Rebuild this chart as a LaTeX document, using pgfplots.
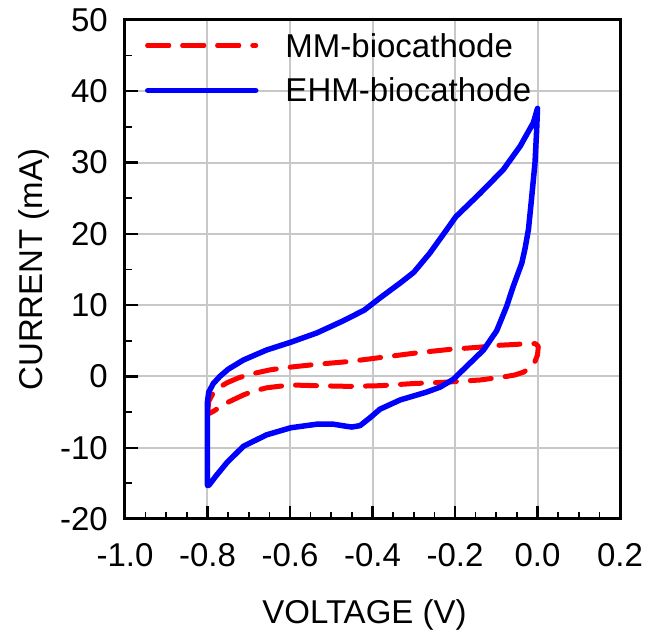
\documentclass[border=0pt]{standalone}
\usepackage{pgfplots}
\pgfplotsset{compat=1.18}
\usepackage{fontspec}
\setmainfont{Liberation Sans}
\definecolor{gridgray}{RGB}{200,200,200}
\pgfplotsset{
  shortlegend/.style={legend image code/.code={\draw[##1] (0pt,4pt) -- (97pt,4pt); \path (0pt,4pt) -- (108pt,4pt);}},
}
\begin{document}
\begin{tikzpicture}
\begin{axis}[
  name=ax,
  scale only axis,
  width=495pt, height=499pt,
  xmin=-1.0, xmax=0.2, ymin=-20, ymax=50,
  xtick={-1,-0.8,-0.6,-0.4,-0.2,0,0.2},
  xticklabels={-1.0,-0.8,-0.6,-0.4,-0.2,0.0,0.2},
  ytick={-20,-10,0,10,20,30,40,50},
  yticklabels={-20,-10,0,10,20,30,40,50},
  minor x tick num=3,
  minor y tick num=1,
  xtick pos=bottom, ytick pos=left,
  tick align=inside,
  major tick length=13pt, minor tick length=7pt,
  every major tick/.append style={black, line width=2.2pt},
  every minor tick/.append style={black, line width=1.7pt},
  axis line style={line width=3pt},
  xmajorgrids=true, ymajorgrids=true, xminorgrids=false, yminorgrids=false,
  major grid style={gridgray, line width=2pt},
  tick label style={font=\fontsize{33}{40}\selectfont},
  xticklabel style={inner sep=0pt, anchor=north, yshift=-24pt},
  yticklabel style={inner sep=0pt, anchor=east, xshift=-17pt},
  xlabel={VOLTAGE (V)},
  ylabel={CURRENT (mA)},
  label style={font=\fontsize{33}{40}\selectfont},
  xlabel style={at={(rel axis cs:0.5,0)}, anchor=north, inner sep=0pt, yshift=-80pt, xshift=-8pt},
  ylabel style={at={(rel axis cs:0,0.5)}, anchor=south, inner sep=0pt, yshift=75pt},
  legend style={at={(rel axis cs:0,1)}, anchor=north west, xshift=20pt, yshift=-13pt,
    draw=none, fill=none, inner sep=0pt, outer sep=0pt,
    column sep=27pt, row sep=11pt,
    font=\fontsize{33}{40}\selectfont,
    nodes={inner sep=0pt, text height=25pt, text depth=8pt}},
  legend cell align=left,
  legend image code/.code={\draw[#1] (0pt,3pt) -- (108pt,3pt);},
]
\addplot[red, line width=5pt, line cap=round, line join=round, dash pattern=on 21pt off 14pt, shortlegend]
coordinates {
(-0.800,-5.3) (-0.797,-3.5) (-0.786,-2.3) (-0.770,-1.5) (-0.753,-0.9) (-0.725,-0.2)
(-0.697,0.3) (-0.650,0.9) (-0.616,1.2) (-0.535,1.7) (-0.455,2.1) (-0.374,2.7)
(-0.293,3.3) (-0.212,3.8) (-0.140,4.1) (-0.099,4.35) (-0.050,4.5) (-0.026,4.6)
(-0.005,4.6) (0.002,4.2) (0.000,3.0) (-0.006,2.1) (-0.018,1.2) (-0.034,0.6)
(-0.055,0.2) (-0.075,0.0) (-0.139,-0.5) (-0.220,-0.8) (-0.301,-1.0) (-0.382,-1.3)
(-0.455,-1.4) (-0.535,-1.3) (-0.600,-1.2) (-0.657,-1.6) (-0.690,-2.1) (-0.713,-2.6)
(-0.753,-3.7) (-0.786,-4.9) (-0.800,-5.3)
};
\addlegendentry{MM-biocathode}
\addplot[blue, line width=5.5pt, line cap=round, line join=round]
coordinates {
(-0.800,-15.3) (-0.800,-3.5) (-0.797,-2.2) (-0.786,-1.0) (-0.770,0.0) (-0.750,1.0)
(-0.713,2.3) (-0.657,3.7) (-0.598,4.8) (-0.535,6.1) (-0.471,7.8) (-0.420,9.3)
(-0.382,11.0) (-0.333,13.1) (-0.300,14.6) (-0.261,17.3) (-0.220,20.6) (-0.198,22.4)
(-0.139,25.7) (-0.083,29.0) (-0.042,32.3) (-0.010,35.6) (0.000,37.6) (-0.002,34.6)
(-0.006,30.0) (-0.010,27.6) (-0.016,24.0) (-0.022,20.6) (-0.030,18.0) (-0.038,15.9)
(-0.059,12.6) (-0.075,9.8) (-0.099,6.4) (-0.131,3.7) (-0.172,1.4) (-0.204,-0.4)
(-0.236,-1.5) (-0.269,-2.2) (-0.333,-3.3) (-0.382,-4.6) (-0.406,-5.8) (-0.430,-6.9)
(-0.450,-7.1) (-0.463,-7.0) (-0.495,-6.7) (-0.535,-6.7) (-0.598,-7.2) (-0.657,-8.2)
(-0.713,-9.8) (-0.753,-12.1) (-0.780,-14.0) (-0.797,-15.3) (-0.800,-15.3)
};
\addlegendentry{EHM-biocathode}
\end{axis}
\path ([shift={(-125pt,-113pt)}]ax.south west) rectangle ([shift={(28pt,20pt)}]ax.north east);
\end{tikzpicture}
\end{document}
